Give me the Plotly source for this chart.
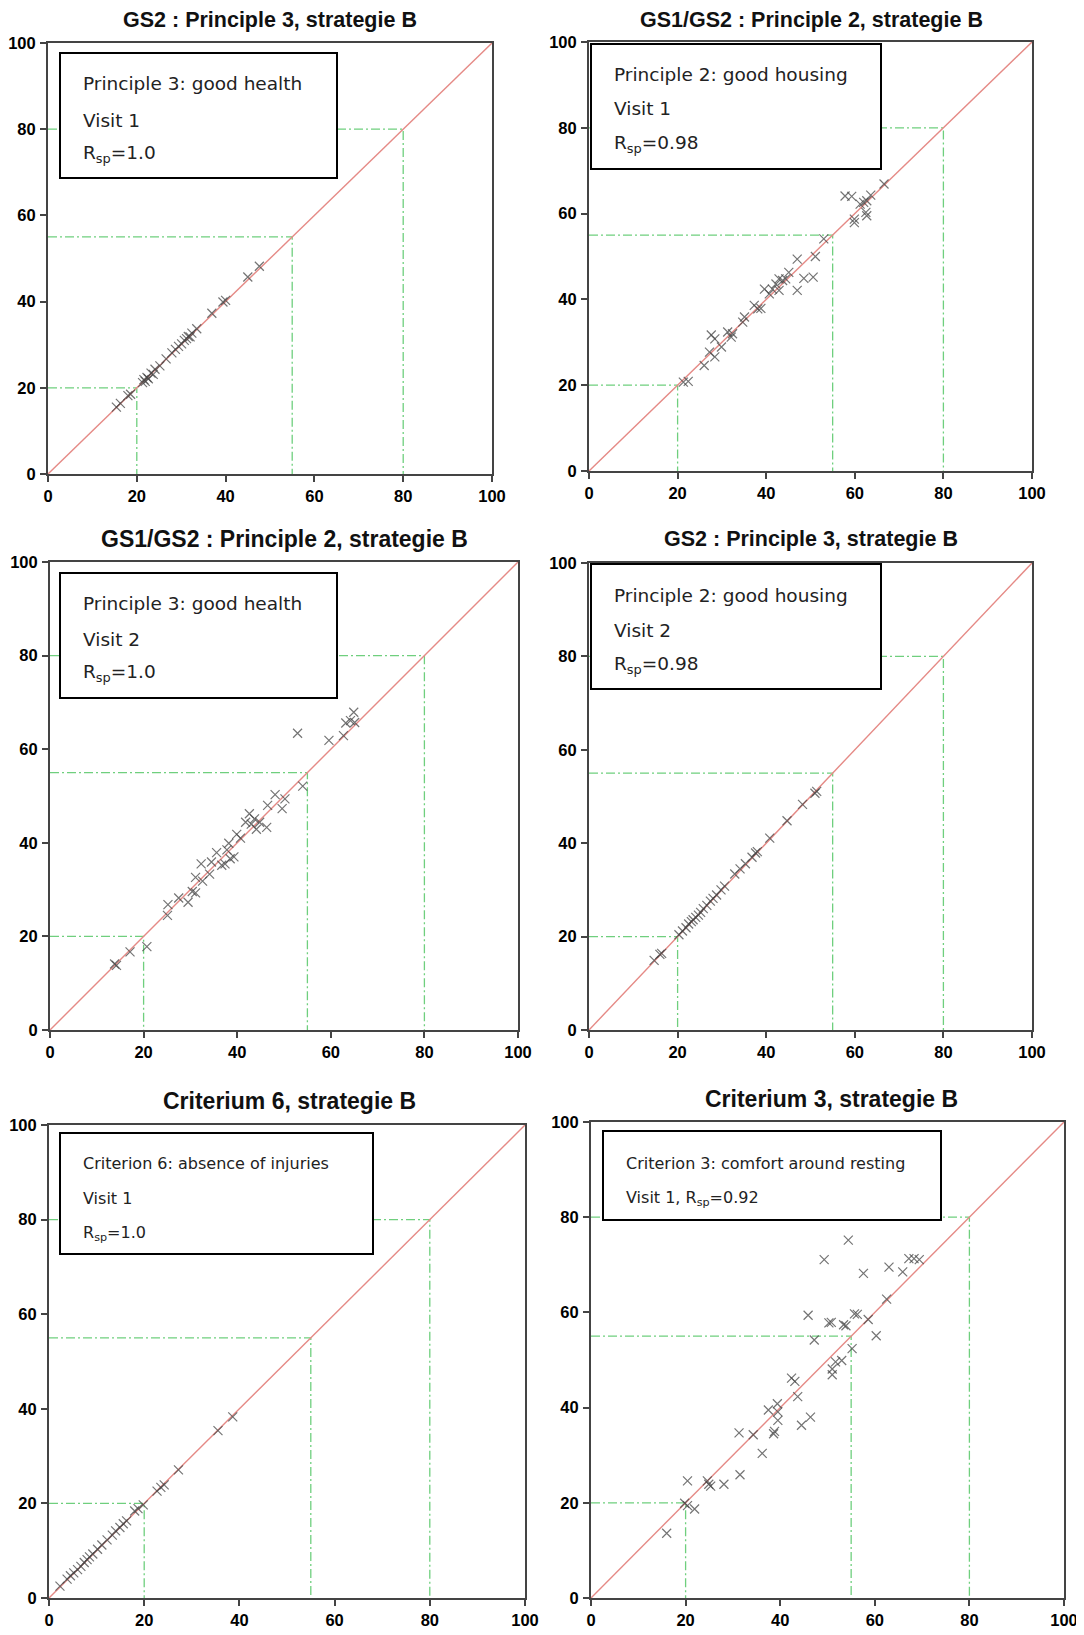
import plotly.graph_objects as go

PAGE_W, PAGE_H = 1084, 1635
OFF = 8  # default body margin of the html page
W, H = PAGE_W - OFF, PAGE_H - OFF

# ---------------- data ----------------
axis_ticks = [0, 20, 40, 60, 80, 100]
ref_levels = [20, 55, 80]
diag = [0, 100]

titles = [
    "GS2 : Principle 3, strategie B",
    "GS1/GS2 : Principle 2, strategie B",
    "GS1/GS2 : Principle 2, strategie B",
    "GS2 : Principle 3, strategie B",
    "Criterium 6, strategie B",
    "Criterium 3, strategie B",
]

box_texts = [
    ["Principle 3: good health", "Visit 1", "R<sub>sp</sub>=1.0"],
    ["Principle 2: good housing", "Visit 1", "R<sub>sp</sub>=0.98"],
    ["Principle 3: good health", "Visit 2", "R<sub>sp</sub>=1.0"],
    ["Principle 2: good housing", "Visit 2", "R<sub>sp</sub>=0.98"],
    ["Criterion 6: absence of injuries", "Visit 1", "R<sub>sp</sub>=1.0"],
    ["Criterion 3: comfort around resting", "Visit 1, R<sub>sp</sub>=0.92"],
]

x1 = [15.4, 16.3, 18.0, 18.6, 21.3, 21.6, 21.9, 22.3, 22.6, 23.2, 23.7, 24.1, 25.2, 26.6, 27.9,
      28.7, 29.4, 30.1, 30.7, 31.2, 31.6, 32.0, 32.4, 33.5, 36.9, 39.4, 40.0, 45.0, 47.6]
y1 = [15.5, 16.4, 18.2, 18.5, 21.2, 21.9, 21.5, 22.4, 22.1, 23.4, 23.1, 24.3, 25.1, 26.7, 28.1,
      28.9, 29.6, 30.2, 31.0, 31.4, 31.9, 31.8, 32.7, 33.7, 37.3, 39.9, 40.3, 45.7, 48.2]

x2 = [21.3, 22.4, 26.0, 27.2, 28.4, 27.6, 28.4, 29.9, 31.3, 32.4, 32.1, 34.7, 35.1, 37.3, 38.1,
      38.8, 39.6, 40.7, 41.4, 42.2, 42.9, 42.9, 43.7, 44.4, 45.1, 47.0, 47.0, 48.5, 50.6, 51.1,
      53.0, 57.8, 59.3, 59.9, 59.9, 61.2, 62.0, 62.7, 62.5, 62.7, 63.6, 66.6]
y2 = [20.7, 20.9, 24.6, 27.7, 26.6, 31.7, 30.8, 28.9, 32.4, 32.0, 31.2, 34.7, 35.9, 38.6, 37.8,
      37.9, 42.4, 41.3, 42.4, 43.6, 44.8, 42.1, 44.4, 44.8, 46.3, 49.4, 42.1, 44.9, 45.2, 50.0,
      54.1, 64.1, 64.0, 58.7, 57.9, 62.2, 62.6, 63.0, 60.3, 59.5, 64.3, 66.9]

x3 = [13.8, 14.2, 17.1, 20.7, 25.1, 25.2, 27.5, 29.5, 30.4, 31.1, 31.1, 32.3, 32.6, 34.1, 34.5,
      35.6, 36.7, 37.4, 37.8, 38.2, 38.5, 39.3, 39.9, 40.7, 41.8, 42.6, 43.0, 43.7, 44.1, 44.8,
      46.3, 46.5, 48.1, 49.6, 50.2, 54.0, 52.9, 59.6, 62.7, 63.2, 64.2, 64.9, 65.1]
y3 = [14.1, 13.8, 16.7, 17.8, 24.5, 26.8, 28.2, 27.3, 29.6, 29.3, 32.6, 35.5, 31.8, 33.3, 35.9,
      37.9, 35.2, 35.5, 38.5, 39.9, 36.6, 37.0, 41.8, 41.0, 44.4, 46.2, 44.0, 45.1, 42.9, 44.4,
      43.3, 48.0, 50.3, 47.3, 49.4, 52.1, 63.4, 61.9, 62.9, 65.6, 66.1, 67.9, 65.7]

x4 = [14.7, 16.0, 16.4, 20.3, 21.1, 21.9, 22.5, 23.1, 23.5, 24.1, 24.7, 25.2, 25.8, 26.6, 27.4,
      28.0, 28.8, 29.8, 30.6, 32.9, 34.1, 35.3, 36.8, 37.6, 38.0, 40.8, 44.7, 48.2, 51.0, 51.4]
y4 = [14.9, 16.2, 16.4, 20.4, 21.2, 21.9, 22.7, 23.2, 23.6, 24.1, 24.6, 25.2, 26.0, 26.7, 27.6,
      28.2, 28.9, 30.0, 30.8, 33.4, 34.5, 35.6, 37.0, 37.9, 38.2, 41.1, 44.8, 48.3, 50.7, 51.1]

x5 = [2.3, 3.8, 4.5, 5.2, 6.0, 6.7, 7.4, 8.0, 8.5, 9.2, 10.2, 11.1, 12.2, 13.3, 14.0, 14.9, 15.6,
      16.3, 18.0, 18.7, 19.8, 22.7, 23.5, 24.2, 27.2, 35.5, 38.6]
y5 = [2.5, 4.0, 4.7, 5.3, 6.0, 6.7, 7.5, 8.1, 8.7, 9.3, 10.3, 11.2, 12.3, 13.3, 14.2, 14.9, 15.7,
      16.3, 18.4, 18.9, 19.7, 22.6, 23.4, 23.9, 27.1, 35.4, 38.3]

x6 = [16.0, 19.8, 20.4, 20.4, 21.9, 24.6, 24.9, 25.3, 28.1, 31.3, 31.5, 34.3, 36.2, 37.5, 38.6,
      38.8, 39.4, 39.5, 39.5, 42.4, 43.1, 43.7, 44.5, 46.4, 45.9, 47.2, 49.3, 50.3, 50.8, 51.0,
      51.0, 51.7, 53.0, 53.4, 53.9, 54.4, 55.2, 55.7, 56.3, 57.6, 58.6, 60.3, 62.5, 63.0, 65.9,
      67.2, 68.3, 69.4]
y6 = [13.6, 19.9, 19.4, 24.6, 18.7, 24.6, 23.9, 23.5, 23.9, 34.7, 25.9, 34.3, 30.4, 39.5, 34.5,
      35.0, 40.8, 39.1, 37.3, 46.2, 45.5, 42.3, 36.3, 38.0, 59.4, 54.2, 71.1, 57.8, 57.9, 48.1,
      46.9, 49.6, 49.9, 57.4, 57.2, 75.2, 52.4, 59.7, 59.6, 68.2, 58.5, 55.1, 62.8, 69.5, 68.5,
      71.3, 71.3, 71.1]

series_x = [x1, x2, x3, x4, x5, x6]
series_y = [y1, y2, y3, y4, y5, y6]

# ---------------- layout geometry (page pixels) ----------------
plot_px = [  # left, right, top, bottom
    (48, 492, 43, 474),
    (589, 1032, 42, 471),
    (50, 518, 562, 1030),
    (589, 1032, 563, 1030),
    (49, 525, 1125, 1598),
    (591, 1064, 1122, 1598),
]
box_px = [  # left, top, right, bottom
    (60, 53, 337, 178),
    (591, 44, 881, 169),
    (60, 573, 337, 698),
    (591, 564, 881, 689),
    (60, 1133, 373, 1254),
    (603, 1131, 941, 1220),
]
text_left = [81, 612, 81, 612, 81, 624]
text_rows = [
    [84, 120, 154],
    [75, 109, 144],
    [603, 639, 673],
    [595, 630, 665],
    [1163, 1198, 1233],
    [1163, 1198],
]
text_size = [18.5, 18.5, 18.5, 18.5, 16, 16]
title_pos = [(270, 20), (811, 20), (284, 539), (811, 539), (289, 1101), (831, 1099)]
title_size = [21.5, 21.5, 23, 21.5, 23, 23]

FRAME = "#444444"
RED = "#e58a86"
GREEN = "#6fcf7e"
MARK = "rgba(70,70,70,0.75)"


def px_x(p):
    return (p - OFF) / W


def px_y(p):
    return 1 - (p - OFF) / H


fig = go.Figure()
shapes = []
annotations = []

for i in range(6):
    n = "" if i == 0 else str(i + 1)
    xa, ya = "x" + n, "y" + n
    l, r, t, b = plot_px[i]

    # green dash-dot reference lines
    gx, gy = [], []
    for v in ref_levels:
        gx += [0, v, v, None]
        gy += [v, v, 0, None]
    fig.add_trace(go.Scatter(x=gx, y=gy, mode="lines", xaxis=xa, yaxis=ya,
                             line=dict(color=GREEN, width=1.3, dash="9px,3px,2px,3px"),
                             hoverinfo="skip", showlegend=False))
    # red identity line
    fig.add_trace(go.Scatter(x=diag, y=diag, mode="lines", xaxis=xa, yaxis=ya,
                             line=dict(color=RED, width=1.4),
                             hoverinfo="skip", showlegend=False))
    # points
    fig.add_trace(go.Scatter(x=series_x[i], y=series_y[i], mode="markers", xaxis=xa, yaxis=ya,
                             marker=dict(symbol="x-thin", size=9,
                                         line=dict(color=MARK, width=1.2)),
                             showlegend=False))

    axis_common = dict(range=[0, 100], tickvals=axis_ticks, ticks="outside", ticklen=6,
                       tickwidth=1.5, tickcolor=FRAME, showline=True, linecolor=FRAME,
                       linewidth=2, mirror=True, showgrid=False, zeroline=False,
                       automargin=False,
                       tickfont=dict(family="Liberation Sans", size=16.5, color="black",
                                     weight="bold"),
                       fixedrange=True)
    fig.update_layout(**{
        ("xaxis" + n): dict(domain=[px_x(l), px_x(r)], anchor=ya, **axis_common),
        ("yaxis" + n): dict(domain=[px_y(b), px_y(t)], anchor=xa, ticklabelstandoff=1,
                            **axis_common),
    })

    # text box
    bl, bt, br, bb = box_px[i]
    shapes.append(dict(type="rect", xref="paper", yref="paper", layer="above",
                       x0=px_x(bl), x1=px_x(br), y0=px_y(bb), y1=px_y(bt),
                       fillcolor="white", line=dict(color="black", width=2)))
    for txt, ty in zip(box_texts[i], text_rows[i]):
        annotations.append(dict(text=txt, xref="paper", yref="paper", showarrow=False,
                                x=px_x(text_left[i]), y=px_y(ty), xanchor="left",
                                yanchor="middle",
                                font=dict(family="DejaVu Sans", size=text_size[i],
                                          color="#222222")))
    # title
    tx, ty = title_pos[i]
    annotations.append(dict(text=titles[i], xref="paper", yref="paper", showarrow=False,
                            x=px_x(tx), y=px_y(ty), xanchor="center", yanchor="middle",
                            font=dict(family="Liberation Sans", size=title_size[i],
                                      color="#111111", weight="bold")))

fig.update_layout(width=W, height=H, margin=dict(l=0, r=0, t=0, b=0, autoexpand=False),
                  paper_bgcolor="white", plot_bgcolor="white",
                  shapes=shapes, annotations=annotations, showlegend=False)

fig.write_html("out.html")
